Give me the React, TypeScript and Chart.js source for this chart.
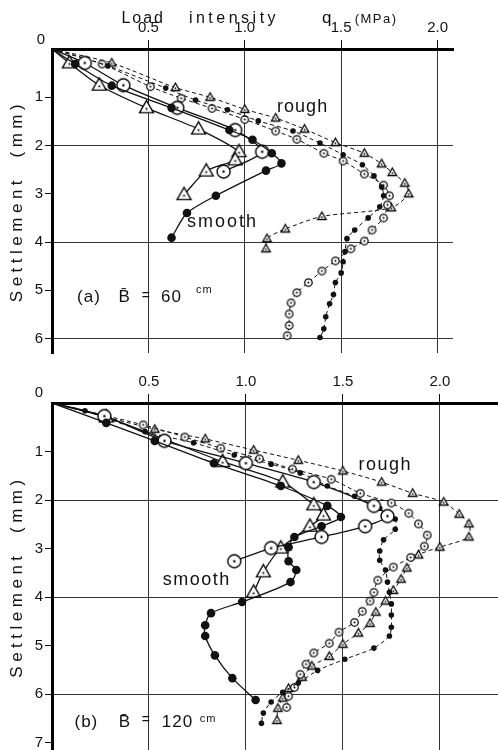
import React, { useEffect, useRef } from 'react';
import { Chart, registerables } from 'chart.js';

Chart.register(...registerables);

type Pt = [number, number];

// ---------- data: [load intensity q (MPa), settlement (mm)] ----------
// (a) B = 60 cm
const A_SMOOTH_DOT: Pt[] = [[0, 0], [0.12, 0.31], [0.31, 0.76], [0.62, 1.22], [0.92, 1.68], [1.04, 1.88], [1.14, 2.16], [1.19, 2.37], [1.11, 2.52], [0.85, 3.04], [0.70, 3.40], [0.62, 3.91]];
const A_SMOOTH_CIRCLE: Pt[] = [[0, 0], [0.17, 0.29], [0.37, 0.75], [0.65, 1.22], [0.95, 1.68], [1.09, 2.13], [0.89, 2.54]];
const A_SMOOTH_TRI: Pt[] = [[0, 0], [0.09, 0.29], [0.245, 0.75], [0.49, 1.22], [0.76, 1.66], [0.97, 2.13], [0.95, 2.30], [0.80, 2.53], [0.685, 3.02]];
const A_ROUGH_DOT: Pt[] = [[0, 0], [0.29, 0.35], [0.59, 0.81], [0.745, 1.06], [0.91, 1.26], [1.07, 1.49], [1.25, 1.70], [1.39, 1.95], [1.51, 2.19], [1.61, 2.40], [1.67, 2.63], [1.71, 2.86], [1.72, 3.04], [1.70, 3.27], [1.64, 3.50], [1.57, 3.75], [1.53, 3.93], [1.52, 4.20], [1.51, 4.41], [1.50, 4.64], [1.47, 4.84], [1.46, 5.09], [1.44, 5.28], [1.42, 5.55], [1.41, 5.80], [1.39, 5.98]];
const A_ROUGH_CIRCLE: Pt[] = [[0, 0], [0.26, 0.31], [0.51, 0.78], [0.67, 1.02], [0.83, 1.23], [1.0, 1.46], [1.16, 1.70], [1.27, 1.87], [1.41, 2.16], [1.51, 2.32], [1.62, 2.59], [1.72, 2.82], [1.75, 3.04], [1.74, 3.23], [1.72, 3.50], [1.66, 3.75], [1.62, 3.98], [1.55, 4.14], [1.47, 4.39], [1.40, 4.60], [1.33, 4.84], [1.27, 5.05], [1.24, 5.26], [1.23, 5.49], [1.23, 5.73], [1.22, 5.94]];
const A_ROUGH_TRI: Pt[] = [[0, 0], [0.31, 0.29], [0.64, 0.80], [0.82, 1.0], [1.0, 1.25], [1.16, 1.43], [1.31, 1.66], [1.47, 1.94], [1.62, 2.16], [1.71, 2.38], [1.765, 2.56], [1.83, 2.78], [1.85, 3.0], [1.76, 3.29], [1.40, 3.47], [1.21, 3.73], [1.115, 3.93], [1.11, 4.14]];

// (b) B = 120 cm
const B_SMOOTH_DOT: Pt[] = [[0, 0], [0.28, 0.41], [0.53, 0.78], [0.835, 1.24], [1.18, 1.71], [1.42, 2.12], [1.49, 2.35], [1.39, 2.54], [1.25, 2.76], [1.22, 2.97], [1.22, 3.26], [1.26, 3.44], [1.23, 3.69], [0.98, 4.10], [0.82, 4.33], [0.79, 4.58], [0.79, 4.80], [0.84, 5.20], [0.93, 5.67], [1.05, 6.12]];
const B_SMOOTH_CIRCLE: Pt[] = [[0, 0], [0.27, 0.27], [0.58, 0.78], [1.0, 1.24], [1.35, 1.63], [1.66, 2.12], [1.73, 2.33], [1.615, 2.54], [1.39, 2.76], [1.13, 2.99], [0.94, 3.26]];
const B_SMOOTH_TRI: Pt[] = [[0, 0], [0.28, 0.29], [0.88, 1.21], [1.19, 1.63], [1.35, 2.10], [1.40, 2.31], [1.33, 2.54], [1.18, 2.99], [1.09, 3.48], [1.04, 3.90]];
const B_ROUGH_DOT: Pt[] = [[0, 0], [0.17, 0.16], [0.48, 0.59], [0.73, 0.82], [0.94, 1.07], [1.13, 1.26], [1.28, 1.44], [1.42, 1.71], [1.56, 1.92], [1.69, 2.17], [1.77, 2.39], [1.77, 2.60], [1.71, 2.82], [1.69, 3.05], [1.69, 3.24], [1.72, 3.44], [1.73, 3.69], [1.74, 3.90], [1.75, 4.14], [1.75, 4.37], [1.75, 4.62], [1.74, 4.80], [1.66, 5.05], [1.51, 5.28], [1.37, 5.51], [1.27, 5.77], [1.19, 5.96], [1.13, 6.16], [1.09, 6.39], [1.08, 6.60]];
const B_ROUGH_CIRCLE: Pt[] = [[0, 0], [0.47, 0.45], [0.685, 0.70], [0.87, 0.93], [1.07, 1.15], [1.24, 1.36], [1.44, 1.57], [1.59, 1.86], [1.75, 2.06], [1.84, 2.27], [1.89, 2.49], [1.935, 2.72], [1.92, 2.95], [1.85, 3.18], [1.76, 3.38], [1.68, 3.65], [1.66, 3.90], [1.64, 4.08], [1.60, 4.29], [1.56, 4.52], [1.48, 4.72], [1.43, 4.95], [1.35, 5.15], [1.31, 5.38], [1.28, 5.59], [1.25, 5.86], [1.22, 6.04], [1.21, 6.27]];
const B_ROUGH_TRI: Pt[] = [[0, 0], [0.53, 0.54], [0.79, 0.74], [1.04, 0.97], [1.27, 1.18], [1.50, 1.40], [1.70, 1.63], [1.86, 1.86], [2.02, 2.04], [2.10, 2.29], [2.15, 2.49], [2.15, 2.76], [2.00, 2.97], [1.89, 3.13], [1.83, 3.40], [1.80, 3.63], [1.76, 3.86], [1.72, 4.08], [1.67, 4.31], [1.64, 4.54], [1.58, 4.74], [1.50, 4.97], [1.43, 5.22], [1.34, 5.42], [1.29, 5.65], [1.22, 5.88], [1.19, 6.08], [1.165, 6.29], [1.16, 6.54]];

// ticks / labels
const X_TICK_STEP = 0.5;
const Y_TICK_STEP = 1;
const Y_GRID_EVERY = 2;
const Y_TITLE = 'Settlement  (mm)';
const X_TITLE_PARTS = ['Load', 'intensity', 'q', '(MPa)'];
const LABEL_ROUGH = 'rough';
const LABEL_SMOOTH = 'smooth';
const A_CAPTION = ['(a)', 'B\u0304', '=', '60', 'cm'];
const B_CAPTION = ['(b)', 'B\u0304', '=', '120', 'cm'];

const FONT = '"Liberation Sans", Arial, Helvetica, sans-serif';
const INK = '#111';

type TextItem = { text: string; q: number; s?: number; above?: number; size: number; ls?: number; align?: CanvasTextAlign };

function circleDot(d: number, lw: number) {
  const c = document.createElement('canvas');
  const size = Math.ceil(d + lw + 2);
  c.width = size; c.height = size;
  const g = c.getContext('2d')!;
  const m = size / 2;
  g.beginPath(); g.arc(m, m, d / 2, 0, Math.PI * 2);
  g.fillStyle = '#fff'; g.fill();
  g.lineWidth = lw; g.strokeStyle = '#000'; g.stroke();
  g.beginPath(); g.arc(m, m, Math.max(1, d / 11), 0, Math.PI * 2);
  g.fillStyle = '#000'; g.fill();
  return c;
}

function triDot(w: number, lw: number) {
  const c = document.createElement('canvas');
  const size = Math.ceil(w + lw + 3);
  c.width = size; c.height = size;
  const g = c.getContext('2d')!;
  const m = size / 2;
  const h = w * 0.88;
  g.beginPath();
  g.moveTo(m, m - h * 0.6);
  g.lineTo(m + w / 2, m + h * 0.4);
  g.lineTo(m - w / 2, m + h * 0.4);
  g.closePath();
  g.fillStyle = '#fff'; g.fill();
  g.lineWidth = lw; g.lineJoin = 'miter'; g.strokeStyle = '#000'; g.stroke();
  g.beginPath(); g.arc(m, m + h * 0.08, Math.max(0.9, w / 13), 0, Math.PI * 2);
  g.fillStyle = '#000'; g.fill();
  return c;
}

function toXY(arr: Pt[]) {
  return arr.map(([q, s]) => ({ x: q, y: s }));
}

function makeDatasets(series: { smoothDot: Pt[]; smoothCircle: Pt[]; smoothTri: Pt[]; roughDot: Pt[]; roughCircle: Pt[]; roughTri: Pt[] }) {
  const bigC = circleDot(13, 1.4);
  const bigT = triDot(14, 1.3);
  const smC = circleDot(7.5, 1.25);
  const smT = triDot(8.5, 1.3);
  const r = (v: number) => (c: any) => (c.dataIndex === 0 ? 0 : v);
  const base = { showLine: true, tension: 0.25, borderColor: INK, pointBorderColor: INK, pointHoverRadius: 0 };
  const smooth = { ...base, borderWidth: 1.3 };
  const rough = { ...base, borderWidth: 1, borderDash: [4, 3] };
  return [
    { ...smooth, label: 'smooth ●', data: toXY(series.smoothDot), pointStyle: 'circle', pointRadius: r(4.3), pointBackgroundColor: INK, pointBorderWidth: 0 },
    { ...smooth, label: 'smooth ⊙', data: toXY(series.smoothCircle), pointStyle: bigC, pointRadius: r(6) },
    { ...smooth, label: 'smooth △', data: toXY(series.smoothTri), pointStyle: bigT, pointRadius: r(6) },
    { ...rough, label: 'rough ●', data: toXY(series.roughDot), pointStyle: 'circle', pointRadius: r(2.8), pointBackgroundColor: INK, pointBorderWidth: 0 },
    { ...rough, label: 'rough ⊙', data: toXY(series.roughCircle), pointStyle: smC, pointRadius: r(4) },
    { ...rough, label: 'rough △', data: toXY(series.roughTri), pointStyle: smT, pointRadius: r(4) },
  ];
}

function textPlugin(items: TextItem[], corner: [number, number]) {
  return {
    id: 'paperText',
    afterDraw(chart: any) {
      const { ctx, chartArea, scales } = chart;
      const xs = scales.x, ys = scales.y;
      ctx.save();
      ctx.fillStyle = INK;
      ctx.textBaseline = 'alphabetic';
      for (const it of items) {
        ctx.font = `${it.size}px ${FONT}`;
        ctx.letterSpacing = `${it.ls || 0}px`;
        ctx.textAlign = it.align || 'left';
        const px = xs.getPixelForValue(it.q);
        const py = it.above != null ? chartArea.top - it.above : ys.getPixelForValue(it.s);
        ctx.fillText(it.text, px, py);
      }
      ctx.letterSpacing = '0px';
      ctx.font = `15px ${FONT}`;
      ctx.textAlign = 'center';
      ctx.textBaseline = 'middle';
      ctx.fillText('0', chartArea.left - corner[0], chartArea.top - corner[1]);
      ctx.translate(chartArea.left - 30.5, (chartArea.top + chartArea.bottom) / 2);
      ctx.rotate(-Math.PI / 2);
      ctx.font = `17px ${FONT}`;
      ctx.letterSpacing = '4.5px';
      ctx.textAlign = 'center';
      ctx.textBaseline = 'alphabetic';
      ctx.fillText(Y_TITLE, 0, 0);
      ctx.restore();
    },
  };
}

type PanelProps = {
  series: any;
  xMax: number;
  yMax: number;
  topH: number;
  padRight: number;
  padBottom: number;
  items: TextItem[];
  corner: [number, number];
};

function Panel(p: PanelProps) {
  const ref = useRef<HTMLCanvasElement>(null);
  useEffect(() => {
    const canvas = ref.current!;
    const chart = new Chart(canvas, {
      type: 'scatter',
      data: { datasets: makeDatasets(p.series) as any },
      options: {
        animation: false,
        responsive: false,
        maintainAspectRatio: false,
        devicePixelRatio: 1,
        events: [],
        layout: { autoPadding: false, padding: { left: 0, top: 0, right: p.padRight, bottom: p.padBottom } },
        plugins: { legend: { display: false }, tooltip: { enabled: false } },
        scales: {
          x: {
            type: 'linear',
            position: 'top',
            min: 0,
            max: p.xMax,
            afterFit: (s: any) => { s.height = p.topH; s.paddingLeft = 0; s.paddingRight = 0; },
            ticks: {
              stepSize: X_TICK_STEP,
              includeBounds: false,
              maxRotation: 0,
              autoSkip: false,
              padding: 3,
              color: INK,
              font: { family: FONT, size: 15 },
              callback: (v: any) => (Number(v) === 0 ? '' : Number(v).toFixed(1)),
            },
            grid: {
              color: (c: any) => (c.tick && c.tick.value > 0 ? '#333' : 'transparent'),
              tickColor: (c: any) => (c.tick && c.tick.value > 0 ? INK : 'transparent'),
              lineWidth: 1,
              tickLength: 9,
            },
            border: { display: true, color: '#000', width: 3 },
          },
          y: {
            type: 'linear',
            reverse: true,
            min: 0,
            max: p.yMax,
            afterFit: (s: any) => { s.width = 52; s.paddingTop = 0; s.paddingBottom = 0; },
            ticks: {
              stepSize: Y_TICK_STEP,
              includeBounds: false,
              autoSkip: false,
              padding: 2,
              color: INK,
              font: { family: FONT, size: 15 },
              callback: (v: any) => (Number(v) === 0 ? '' : String(v)),
            },
            grid: {
              color: (c: any) => (c.tick && c.tick.value > 0 && c.tick.value % Y_GRID_EVERY === 0 ? '#333' : 'transparent'),
              tickColor: (c: any) => (c.tick && c.tick.value > 0 ? INK : 'transparent'),
              lineWidth: 1,
              tickLength: 7,
            },
            border: { display: true, color: '#000', width: 3 },
          },
        },
      },
      plugins: [textPlugin(p.items, p.corner) as any],
    });
    return () => chart.destroy();
  }, []);
  return <canvas ref={ref} width={498} height={375} style={{ display: 'block', width: 498, height: 375 }} />;
}

const A_ITEMS: TextItem[] = [
  { text: X_TITLE_PARTS[0], q: 0.36, above: 26, size: 16, ls: 2 },
  { text: X_TITLE_PARTS[1], q: 0.71, above: 26, size: 16, ls: 3.5 },
  { text: X_TITLE_PARTS[2], q: 1.40, above: 26, size: 17 },
  { text: X_TITLE_PARTS[3], q: 1.57, above: 26, size: 13, ls: 1.5 },
  { text: LABEL_ROUGH, q: 1.30, s: 1.30, size: 18, ls: 1, align: 'center' },
  { text: LABEL_SMOOTH, q: 0.70, s: 3.69, size: 18, ls: 2 },
  { text: A_CAPTION[0], q: 0.13, s: 5.24, size: 17, ls: 1 },
  { text: A_CAPTION[1], q: 0.345, s: 5.24, size: 17 },
  { text: A_CAPTION[2], q: 0.465, s: 5.20, size: 14 },
  { text: A_CAPTION[3], q: 0.566, s: 5.24, size: 17, ls: 1 },
  { text: A_CAPTION[4], q: 0.747, s: 5.05, size: 11, ls: 1 },
];

const B_ITEMS: TextItem[] = [
  { text: LABEL_ROUGH, q: 1.58, s: 1.38, size: 18, ls: 1.5 },
  { text: LABEL_SMOOTH, q: 0.571, s: 3.75, size: 18, ls: 1.5 },
  { text: B_CAPTION[0], q: 0.116, s: 6.68, size: 17, ls: 1 },
  { text: B_CAPTION[1], q: 0.344, s: 6.68, size: 17 },
  { text: B_CAPTION[2], q: 0.463, s: 6.62, size: 14 },
  { text: B_CAPTION[3], q: 0.566, s: 6.68, size: 17, ls: 1 },
  { text: B_CAPTION[4], q: 0.762, s: 6.58, size: 11, ls: 1 },
];

export default function App() {
  return (
    <div style={{ position: 'absolute', left: 0, top: 0, width: 498, height: 750, background: '#fff' }}>
      <Panel
        series={{ smoothDot: A_SMOOTH_DOT, smoothCircle: A_SMOOTH_CIRCLE, smoothTri: A_SMOOTH_TRI, roughDot: A_ROUGH_DOT, roughCircle: A_ROUGH_CIRCLE, roughTri: A_ROUGH_TRI }}
        xMax={2.08}
        yMax={6.3}
        topH={49}
        padRight={45}
        padBottom={22}
        items={A_ITEMS}
        corner={[11, 9]}
      />
      <Panel
        series={{ smoothDot: B_SMOOTH_DOT, smoothCircle: B_SMOOTH_CIRCLE, smoothTri: B_SMOOTH_TRI, roughDot: B_ROUGH_DOT, roughCircle: B_ROUGH_CIRCLE, roughTri: B_ROUGH_TRI }}
        xMax={2.3}
        yMax={7.15}
        topH={28}
        padRight={0}
        padBottom={0}
        items={B_ITEMS}
        corner={[13, 10]}
      />
    </div>
  );
}
